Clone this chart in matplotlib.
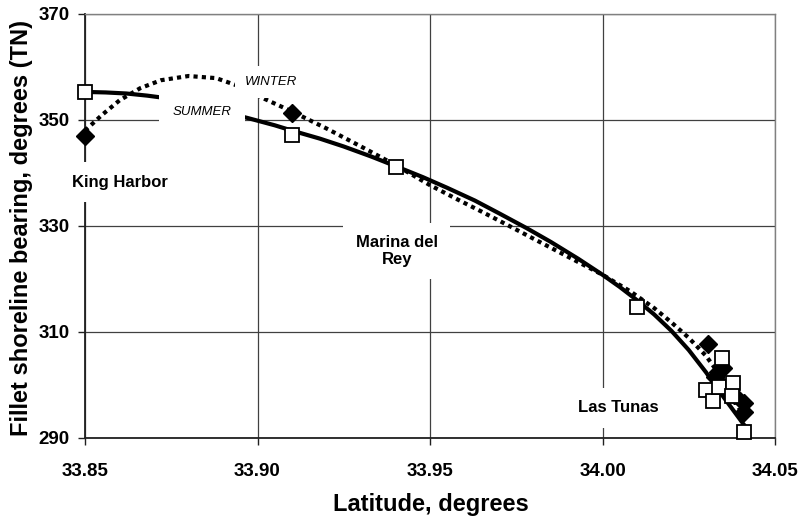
import matplotlib
matplotlib.use('Agg')
import matplotlib.pyplot as plt

plt.rcParams['font.family'] = ['Liberation Sans', 'DejaVu Sans']

# Observed fillet bearings (summer = open squares, winter = diamonds)
summer_lat = [33.85, 33.91, 33.94, 34.01, 34.030, 34.032, 34.0338, 34.0346, 34.0378, 34.0375, 34.041]
summer_brg = [355.3, 347.2, 341.1, 314.7, 299.1, 297.0, 299.6, 305.1, 300.4, 298.0, 291.1]
winter_lat = [33.85, 33.91, 34.0306, 34.0326, 34.0335, 34.035, 34.038, 34.041, 34.041]
winter_brg = [347.0, 351.3, 307.7, 301.5, 302.5, 303.2, 298.1, 296.6, 294.9]

# Trend curves
summer_fit_lat = [33.850, 33.856, 33.862, 33.868, 33.875, 33.897, 33.905, 33.910,
                  33.918, 33.925, 33.933, 33.940, 33.948, 33.955, 33.963, 33.970,
                  33.978, 33.985, 33.993, 34.000, 34.005, 34.010, 34.015, 34.020,
                  34.025, 34.030, 34.035, 34.041]
summer_fit_brg = [355.3, 355.2, 355.0, 354.6, 354.0, 350.4, 349.0, 348.0,
                  346.5, 345.0, 343.1, 341.3, 339.2, 337.2, 334.8, 332.4,
                  329.6, 327.0, 323.8, 320.8, 318.5, 316.0, 313.3, 310.2,
                  306.6, 302.4, 297.8, 292.5]
winter_fit_lat = [33.850, 33.855, 33.860, 33.866, 33.872, 33.880, 33.888, 33.895,
                  33.902, 33.910, 33.920, 33.930, 33.940, 33.950, 33.958, 33.965,
                  33.973, 33.980, 33.990, 34.000, 34.008, 34.015, 34.020, 34.025,
                  34.030, 34.035, 34.041]
winter_fit_brg = [348.0, 351.0, 353.7, 356.0, 357.5, 358.3, 357.9, 356.3,
                  354.0, 351.6, 348.4, 345.0, 341.5, 337.7, 335.0, 332.7,
                  330.0, 327.6, 324.2, 320.8, 317.7, 314.5, 311.8, 308.9,
                  305.5, 301.0, 294.0]

x_ticks = [33.85, 33.90, 33.95, 34.00, 34.05]
y_ticks = [290, 310, 330, 350, 370]

fig = plt.figure(figsize=(7.99, 5.21), dpi=100)
ax = fig.add_axes([85 / 799, 1 - 438 / 521, 690 / 799, 424 / 521])

ax.plot(summer_fit_lat, summer_fit_brg, color='black', lw=3, zorder=3)
ax.plot(winter_fit_lat, winter_fit_brg, color='black', lw=3,
        linestyle=(0, (1, 1)), dash_capstyle='butt', zorder=3)
ax.plot(winter_lat, winter_brg, 'D', color='black', markersize=9, zorder=4, clip_on=False)
ax.plot(summer_lat, summer_brg, 's', markerfacecolor='white', markeredgecolor='black',
        markeredgewidth=1.3, markersize=9.5, zorder=4, clip_on=False)

ax.set_xlim(33.85, 34.05)
ax.set_ylim(290, 370)
ax.set_xticks(x_ticks)
ax.set_xticklabels(['%.2f' % t for t in x_ticks])
ax.set_yticks(y_ticks)
ax.grid(True, color='#404040', linewidth=0.9)
ax.set_axisbelow(True)

for side in ['left', 'bottom']:
    ax.spines[side].set_color('#202020')
    ax.spines[side].set_linewidth(1.3)
for side in ['top', 'right']:
    ax.spines[side].set_color('#808080')
    ax.spines[side].set_linewidth(1.0)

ax.tick_params(axis='both', direction='out', length=5, width=1, color='#202020',
               labelsize=13.5)
ax.tick_params(axis='x', pad=13)
ax.tick_params(axis='y', pad=6)
for lab in ax.get_xticklabels() + ax.get_yticklabels():
    lab.set_fontweight('bold')

# Place-name labels sit on white boxes that mask the grid and curves behind them
box = dict(facecolor='white', edgecolor='none', pad=9)
ax.text(33.8600, 338.3, 'King Harbor', fontsize=12, fontweight='bold',
        ha='center', va='center', bbox=box, zorder=6)
ax.text(33.9404, 325.3, 'Marina del\nRey', fontsize=12, fontweight='bold',
        ha='center', va='center', linespacing=1.15, bbox=box, zorder=6)
ax.text(34.0045, 295.7, 'Las Tunas', fontsize=12, fontweight='bold',
        ha='center', va='center', bbox=box, zorder=6)
ax.text(33.9040, 357.2, 'WINTER', fontsize=9.5, style='italic',
        ha='center', va='center', bbox=dict(facecolor='white', edgecolor='none', pad=7),
        zorder=6)
ax.text(33.8839, 351.5, 'SUMMER', fontsize=9.5, style='italic',
        ha='center', va='center', bbox=dict(facecolor='white', edgecolor='none', pad=10),
        zorder=6)

fig.text(431 / 799, 1 - 505 / 521, 'Latitude, degrees', fontsize=17, fontweight='bold',
         ha='center', va='center')
fig.text(22 / 799, 1 - 228 / 521, 'Fillet shoreline bearing, degrees (TN)', fontsize=17,
         fontweight='bold', rotation=90, ha='center', va='center')

fig.savefig('out.png', dpi=100)
